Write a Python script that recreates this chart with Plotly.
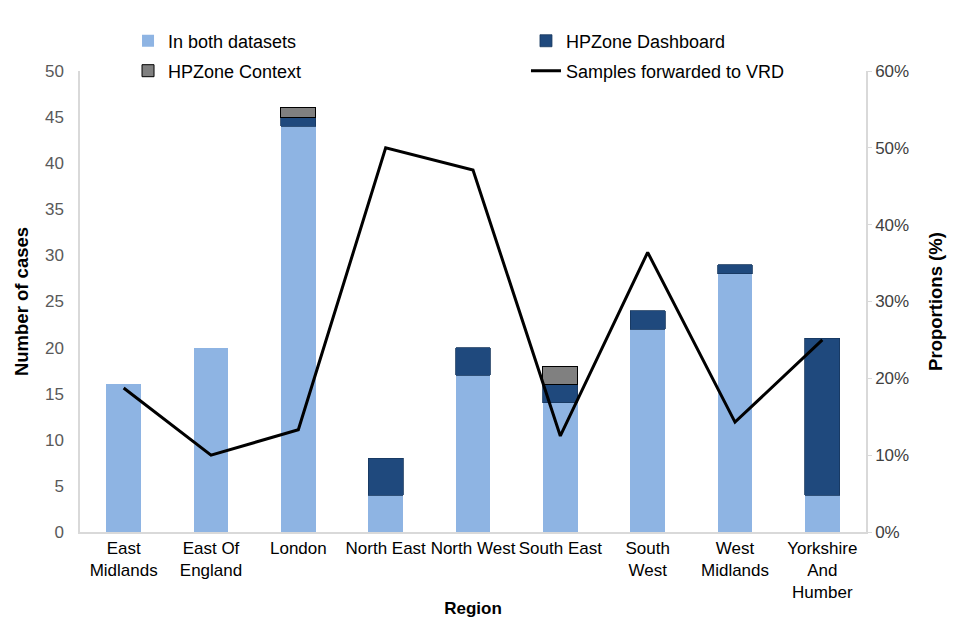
import plotly.graph_objects as go

regions = ["East<br>Midlands", "East Of<br>England", "London", "North East", "North West",
           "South East", "South<br>West", "West<br>Midlands", "Yorkshire<br>And<br>Humber"]
both = [16, 20, 44, 4, 17, 14, 22, 28, 4]
dashboard = [0, 0, 1, 4, 3, 2, 2, 1, 17]
context = [0, 0, 1, 0, 0, 2, 0, 0, 0]
forwarded_pct = [0.1875, 0.10, 0.133, 0.50, 0.471, 0.125, 0.364, 0.143, 0.25]

FONT = "Liberation Sans, Arial, sans-serif"


def nz(vals):
    # zero-height segments are left out so they draw no outline
    return [v if v else None for v in vals]


fig = go.Figure()
fig.add_trace(go.Bar(x=regions, y=nz(both), name="In both datasets", legend="legend",
                     marker=dict(color="#8EB4E3", line=dict(width=0))))
fig.add_trace(go.Bar(x=regions, y=nz(dashboard), name="HPZone Dashboard", legend="legend2",
                     marker=dict(color="#1F497D", line=dict(color="#17375E", width=0.8))))
fig.add_trace(go.Bar(x=regions, y=nz(context), name="HPZone Context", legend="legend3",
                     marker=dict(color="#808080", line=dict(color="#000000", width=1))))
fig.add_trace(go.Scatter(x=regions, y=forwarded_pct, name="Samples forwarded to VRD",
                         legend="legend4",
                         mode="lines", line=dict(color="#000000", width=3), yaxis="y2"))

legend_common = dict(xanchor="left", yanchor="middle", orientation="v",
                     font=dict(size=18, color="#000000"),
                     bgcolor="rgba(0,0,0,0)")
col1, col2 = 0.0611, 0.5674
row1, row2 = 1.065, 1.0

fig.update_layout(
    width=960, height=640,
    barmode="stack", bargap=0.6,
    plot_bgcolor="white", paper_bgcolor="white",
    font=dict(family=FONT, size=16, color="#595959"),
    margin=dict(l=72, r=102, t=63, b=116, autoexpand=False),
    showlegend=True,
    legend=dict(x=col1, y=row1, **legend_common),
    legend2=dict(x=col2, y=row1, **legend_common),
    legend3=dict(x=col1, y=row2, **legend_common),
    legend4=dict(x=col2, y=row2, **legend_common),
    xaxis=dict(showline=True, linecolor="#D9D9D9", linewidth=1.5,
               tickfont=dict(size=17, color="#000000"), ticks="",
               title=dict(text="<b>Region</b>", font=dict(size=17, color="#000000"), standoff=1)),
    yaxis=dict(range=[0, 50], dtick=5, showgrid=False, zeroline=False,
               showline=True, linecolor="#D9D9D9", linewidth=1.5,
               ticks="outside", ticklen=11, tickcolor="rgba(0,0,0,0)",
               tickfont=dict(size=17, color="#595959"),
               title=dict(text="<b>Number of cases</b>", font=dict(size=18.5, color="#000000"), standoff=11)),
    yaxis2=dict(range=[0, 0.6], dtick=0.1, tickformat=".0%", overlaying="y", side="right",
                showgrid=False, zeroline=False, showline=True, linecolor="#D9D9D9", linewidth=1.5,
                ticks="outside", ticklen=4, tickcolor="#D9D9D9",
                tickfont=dict(size=17, color="#404040"),
                title=dict(text="<b>Proportions (%)</b>", font=dict(size=18.5, color="#000000"), standoff=21)),
)

fig.write_html("out.html")
